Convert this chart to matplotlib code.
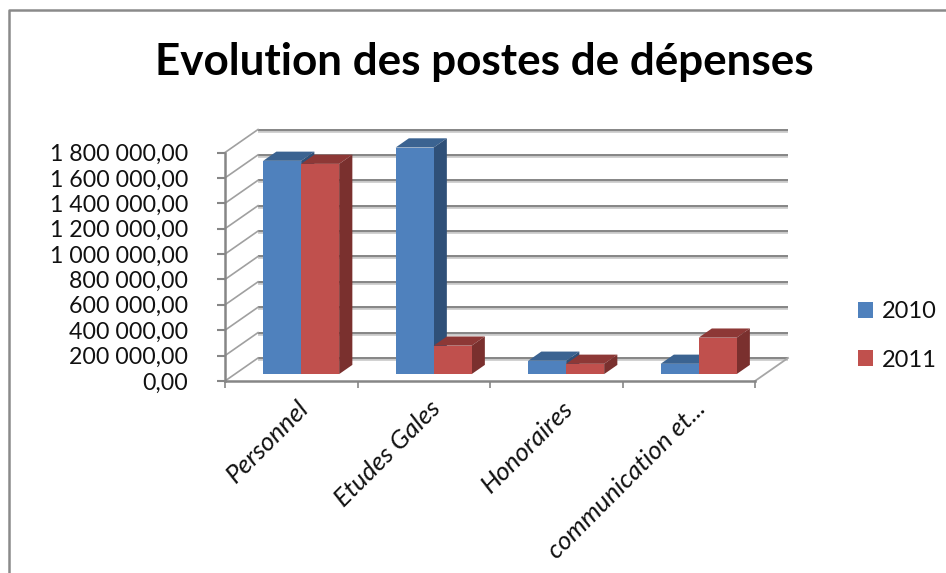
import matplotlib
matplotlib.use("Agg")
import matplotlib.pyplot as plt
from matplotlib.patches import Polygon
from matplotlib.lines import Line2D
from matplotlib.transforms import ScaledTranslation, Affine2D

categories = ["Personnel", "Etudes Gales", "Honoraires", "communication et..."]
series_names = ["2010", "2011"]
values_2010 = [1680000, 1785000, 105000, 81000]
values_2011 = [1656000, 224000, 81000, 287000]
y_ticks = [0, 200000, 400000, 600000, 800000, 1000000, 1200000, 1400000, 1600000, 1800000]
y_labels = ["0,00", "200 000,00", "400 000,00", "600 000,00", "800 000,00",
            "1 000 000,00", "1 200 000,00", "1 400 000,00", "1 600 000,00", "1 800 000,00"]

W, H = 946, 573
FONT = "Lato"
GRID = "#868686"
FRONT = ["#4F81BD", "#C0504D"]
TOP = ["#3B6391", "#8D3836"]
SIDE = ["#2F5078", "#7A302E"]

fig = plt.figure(figsize=(W / 100, H / 100), dpi=100, facecolor="white")

# chart frame: left and top edges only, the others are cropped away
fig.add_artist(Line2D([8.5 / W, 8.5 / W, 1], [0, 1 - 9.5 / H, 1 - 9.5 / H],
                      color="#8A8A8A", lw=1.8, transform=fig.transFigure))

# front plane of the 3D box, in pixels
L, R, T, B = 225, 755, 152.5, 381
ax = fig.add_axes([L / W, 1 - B / H, (R - L) / W, (B - T) / H])
ax.set_xlim(0, len(categories))
ax.set_ylim(0, 1800000)
ax.patch.set_alpha(0)

# depth vector of the box in data units (33 px right, 23 px up)
DX = 33 / (R - L) * len(categories)
DY = 23 / (B - T) * 1800000


def proj(x, y, d):
    return x + d * DX, y + d * DY


# walls: back gridlines and side-wall diagonals
for v in y_ticks:
    x0, y0 = proj(0, v, 1)
    x1, y1 = proj(len(categories), v, 1)
    ax.plot([x0, x1], [y0, y1], color="#C8C8C8", lw=2.6, clip_on=False, zorder=1,
            solid_capstyle="butt", transform=ax.transData + Affine2D().translate(0, -1))
    ax.plot([x0, x1], [y0, y1], color=GRID, lw=1.4, clip_on=False, zorder=1.1, solid_capstyle="butt")
    ax.plot([0, x0], [v, y0], color="#A0A0A0", lw=1.2, clip_on=False, zorder=1.1)
x0, y0 = proj(len(categories), 0, 1)
ax.plot([len(categories), x0], [0, y0], color="#A6A6A6", lw=1.3, clip_on=False, zorder=1.1)

# bars
bar_w = 38 / (R - L) * len(categories)
front_d, back_d = 0.3, 0.7
handles = []
for s, vals in enumerate([values_2010, values_2011]):
    xs = [i + 0.5 + (s - 0.5) * bar_w + front_d * DX for i in range(len(categories))]
    base = front_d * DY
    bars = ax.bar(xs, vals, width=bar_w, bottom=base, color=FRONT[s], clip_on=False,
                  zorder=3 + s * 2 + 0.5, label=series_names[s], linewidth=0)
    handles.append(bars)
    step = back_d - front_d
    for xc, v in zip(xs, vals):
        xl, xr = xc - bar_w / 2, xc + bar_w / 2
        top_y = base + v
        ax.add_patch(Polygon([(xl, top_y), (xr, top_y), (xr + step * DX, top_y + step * DY),
                              (xl + step * DX, top_y + step * DY)], closed=True, facecolor=TOP[s],
                             edgecolor="none", clip_on=False, zorder=3 + s * 2))
        ax.add_patch(Polygon([(xr, base), (xr, top_y), (xr + step * DX, top_y + step * DY),
                              (xr + step * DX, base + step * DY)], closed=True, facecolor=SIDE[s],
                             edgecolor="none", clip_on=False, zorder=3 + s * 2))

# axes lines and ticks
for side in ("top", "right"):
    ax.spines[side].set_visible(False)
for side in ("left", "bottom"):
    ax.spines[side].set_color(GRID)
    ax.spines[side].set_linewidth(1.8)
ax.set_yticks(y_ticks)
ax.set_yticklabels(y_labels, fontsize=16.7, family=FONT, color="#111111")
ax.tick_params(axis="y", which="major", length=5.8, width=1.5, color=GRID, pad=20.5)
ax.set_xticks(range(len(categories) + 1))
ax.set_xticklabels([])
ax.tick_params(axis="x", which="major", length=5, width=1.2, color=GRID)
ax.set_xticks([i + 0.5 for i in range(len(categories))], minor=True)
ax.set_xticklabels(categories, minor=True, fontsize=18.6, family=FONT, style="italic",
                   rotation=45, ha="right", va="top", rotation_mode="anchor", color="#111111")
ax.tick_params(axis="x", which="minor", length=0, pad=11)
shift = ScaledTranslation(5 / 100, 0, fig.dpi_scale_trans)
for lab in ax.get_xticklabels(minor=True):
    lab.set_transform(lab.get_transform() + shift)

# title
fig.text(484 / W, 1 - 62 / H, "Evolution des postes de dépenses", fontsize=31.7, fontweight="bold",
         family=FONT, ha="center", va="center", color="black")

# legend
leg = ax.legend(handles=[h[0] for h in handles], labels=series_names, loc="center left",
                bbox_to_anchor=(858 / W, 1 - 336 / H), bbox_transform=fig.transFigure, frameon=False,
                prop={"family": FONT, "size": 17}, handlelength=0.64, handleheight=0.64,
                handletextpad=0.36, labelspacing=1.15, borderpad=0, borderaxespad=0)
for t in leg.get_texts():
    t.set_color("#111111")

fig.savefig("out.png", dpi=100, facecolor="white")
